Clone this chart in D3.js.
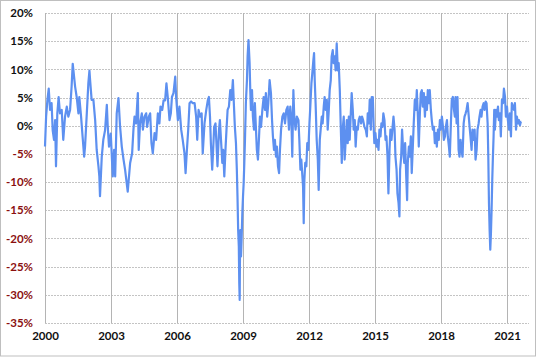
<!DOCTYPE html>
<html><head><meta charset="utf-8">
<script src="https://cdn.jsdelivr.net/npm/d3@7"></script>
<style>
html,body{margin:0;padding:0;background:#fff;}
svg{display:block;}
text{font-family:Lato,"Open Sans",sans-serif;font-weight:700;font-size:11.5px;}
</style></head>
<body><svg id="c" width="540" height="357"></svg>
<script>
const xTicks = [2000, 2003, 2006, 2009, 2012, 2015, 2018, 2021];
const yTicks = [20, 15, 10, 5, 0, -5, -10, -15, -20, -25, -30, -35];

const years = [
2000.00,2000.05,2000.11,2000.17,2000.23,2000.30,2000.35,2000.41,2000.46,2000.50,
2000.56,2000.62,2000.68,2000.76,2000.83,2000.91,2000.99,2001.06,2001.14,2001.21,
2001.26,2001.37,2001.44,2001.52,2001.56,2001.64,2001.71,2001.78,2001.82,2001.90,
2001.97,2002.02,2002.05,2002.12,2002.20,2002.28,2002.35,2002.43,2002.47,2002.50,
2002.58,2002.65,2002.73,2002.81,2002.85,2002.91,2002.99,2003.08,2003.14,2003.19,
2003.26,2003.34,2003.41,2003.49,2003.57,2003.64,2003.76,
2003.87,2003.96,2004.02,2004.07,2004.14,2004.22,2004.26,2004.32,2004.40,2004.45,
2004.52,2004.60,2004.64,2004.72,2004.78,2004.84,2004.90,2004.98,2005.05,2005.13,
2005.20,2005.25,2005.33,2005.39,2005.46,2005.52,2005.58,2005.66,2005.72,2005.77,
2005.84,2005.92,2005.96,2006.04,2006.11,2006.19,2006.26,2006.34,2006.39,2006.45,
2006.51,2006.57,2006.64,2006.72,2006.80,2006.87,2006.92,2006.98,2007.06,2007.12,
2007.17,2007.25,2007.33,2007.40,
2007.45,2007.50,2007.54,2007.60,2007.65,2007.69,2007.75,2007.80,2007.84,2007.91,
2007.95,2008.00,2008.06,2008.10,2008.15,2008.21,2008.25,2008.30,2008.36,2008.42,
2008.48,2008.54,2008.59,2008.63,2008.68,2008.72,2008.75,2008.78,2008.81,2008.83,
2008.85,2008.86,2008.88,2008.91,2008.94,2008.97,2009.00,2009.03,2009.06,2009.09,
2009.13,2009.18,2009.21,2009.25,2009.30,2009.33,2009.36,2009.41,2009.45,2009.50,
2009.54,2009.59,2009.63,2009.68,2009.73,2009.77,2009.82,2009.88,2009.94,2010.00,
2010.04,2010.10,2010.15,2010.21,2010.27,2010.32,2010.36,2010.41,2010.45,2010.50,
2010.54,2010.59,2010.64,2010.68,2010.73,2010.79,2010.85,2010.91,2010.97,2011.03,
2011.09,
2011.15,2011.20,2011.24,2011.29,2011.33,2011.39,2011.45,2011.52,2011.56,2011.61,
2011.65,2011.70,2011.73,2011.76,2011.79,2011.83,2011.88,2011.92,2011.97,2012.02,
2012.06,2012.11,2012.15,2012.20,2012.23,2012.26,2012.30,2012.35,2012.40,2012.44,
2012.49,2012.53,2012.58,2012.62,2012.67,2012.71,2012.76,2012.81,2012.85,2012.90,
2012.94,2012.99,2013.03,2013.08,2013.12,2013.17,2013.21,2013.26,2013.31,2013.35,
2013.40,2013.44,2013.49,2013.53,2013.58,2013.62,2013.67,2013.72,2013.76,2013.81,
2013.85,2013.90,2013.94,2013.99,2014.03,2014.08,2014.12,2014.17,2014.22,2014.26,
2014.31,2014.37,2014.41,2014.46,2014.52,2014.58,2014.63,2014.67,2014.72,2014.76,
2014.81,2014.85,
2014.90,2014.94,2014.97,2015.02,2015.07,2015.11,2015.16,2015.20,2015.25,2015.29,
2015.34,2015.38,2015.43,2015.48,2015.52,2015.57,2015.61,2015.66,2015.70,2015.75,
2015.79,2015.84,2015.89,2015.93,2015.98,2016.02,2016.07,2016.11,2016.14,2016.19,
2016.23,2016.28,2016.33,2016.37,2016.42,2016.46,2016.49,2016.54,2016.58,2016.63,
2016.67,2016.72,2016.76,2016.81,2016.86,2016.90,2016.95,2016.99,2017.04,2017.08,
2017.13,2017.17,2017.22,2017.27,2017.31,2017.36,2017.40,2017.45,2017.49,2017.54,
2017.58,2017.63,2017.68,2017.72,2017.77,2017.81,2017.86,2017.90,2017.95,2017.99,
2018.04,2018.09,2018.13,2018.18,2018.22,2018.27,2018.31,2018.36,2018.40,2018.45,
2018.49,2018.54,2018.59,
2018.63,2018.66,2018.71,2018.75,2018.80,2018.84,2018.89,2018.93,2018.98,2019.03,
2019.07,2019.12,2019.16,2019.21,2019.25,2019.30,2019.34,2019.39,2019.43,2019.48,
2019.53,2019.57,2019.62,2019.66,2019.71,2019.75,2019.80,2019.84,2019.89,2019.94,
2019.98,2020.03,2020.07,2020.12,2020.15,2020.18,2020.21,2020.24,2020.27,2020.30,
2020.33,2020.36,2020.39,2020.42,2020.45,2020.50,2020.54,2020.59,2020.63,2020.68,
2020.72,2020.77,2020.82,2020.86,2020.91,2020.95,2021.00,2021.04,2021.09,2021.13,
2021.18,2021.22,2021.27,2021.32,2021.36,2021.41,2021.45,2021.50,2021.54,2021.59,
2021.63,2021.65
];

const values = [
-3.7,1.6,4.6,6.6,2.8,4.0,-0.8,-2.5,1.0,-7.2,
2.2,5.1,2.2,2.8,-2.5,1.6,3.4,1.6,2.8,7.0,
11.0,6.9,5.1,2.2,5.1,1.6,-2.0,-5.5,-3.7,2.2,
7.5,9.8,8.1,4.6,4.6,1.0,-4.3,-7.2,-9.0,-12.5,
-5.5,-2.5,-0.8,3.7,0.0,-3.7,-1.4,-9.0,-4.3,-9.0,
2.2,4.9,0.0,-3.7,-6.0,-7.8,-11.7,
-6.6,-4.9,-0.7,1.6,0.4,5.8,-4.3,0.4,2.2,-0.7,
1.6,2.2,-0.2,1.6,2.2,-3.1,-4.9,-1.3,-2.5,2.2,
0.4,3.4,2.8,4.5,4.5,7.5,5.1,1.0,2.2,5.1,
5.8,8.7,5.1,1.0,3.4,-0.7,-2.5,-4.9,-8.4,-4.3,
-0.7,4.0,4.3,4.0,4.0,1.6,-2.5,2.8,1.6,2.2,
-4.9,0.4,2.8,4.5,
5.1,1.6,-3.1,-7.8,-3.7,-0.2,0.4,-3.7,-7.2,-0.7,
1.0,-2.5,-6.6,-4.3,-9.0,-3.7,-0.7,2.8,3.4,6.3,
4.6,8.1,3.4,-0.2,-3.1,-7.8,-12.6,-18.5,-21.4,-27.9,
-30.9,-24.4,-18.5,-23.2,-19.7,-15.5,-12.6,-10.2,-6.6,-2.5,
4.0,8.1,12.3,15.2,11.1,6.3,2.8,6.3,1.6,-0.7,
4.0,-0.7,-4.3,-6.0,-1.9,1.6,-0.2,2.8,5.1,2.8,
5.8,1.6,4.0,8.1,5.8,1.0,-1.9,-4.3,-2.5,-5.5,
-3.7,-7.2,-8.4,-4.3,-0.7,1.6,2.2,0.4,2.8,3.4,
-0.7,
3.4,1.0,-5.5,6.3,1.6,-0.7,1.6,1.0,-2.5,-7.8,
-6.0,-9.0,-10.8,-17.3,-9.6,-6.6,-7.2,-3.1,-4.3,0.4,
3.4,7.5,9.3,11.7,12.9,8.1,4.0,-2.5,-6.0,-11.4,
-2.5,-0.7,1.6,0.4,3.4,5.1,2.8,4.6,-0.7,2.8,
6.3,8.1,12.3,13.4,11.1,12.3,9.8,14.6,9.8,11.1,
6.3,0.4,-6.6,-0.7,1.6,-6.0,-2.5,1.0,-3.1,1.6,
-2.5,2.2,5.8,2.8,-0.7,1.0,-3.7,-0.2,-0.7,1.0,
1.6,0.4,1.6,1.0,-0.2,-0.7,-1.9,2.2,0.4,4.6,
-0.7,5.1,
5.1,-0.2,-3.1,-1.3,-3.7,-2.5,-4.3,-0.7,-1.9,0.4,
-0.2,2.2,1.0,-2.5,-1.9,-5.5,-12.0,-4.3,-0.7,-2.5,
-0.7,1.6,-0.7,-5.5,-7.8,-12.0,-13.7,-16.1,-7.8,-5.5,
-0.7,-4.3,-6.6,-3.1,-9.0,-13.2,-6.6,-3.7,-5.5,-1.9,
-8.4,-3.7,0.4,4.6,2.8,6.3,1.6,-3.7,2.2,5.8,
6.3,3.4,5.8,1.6,5.1,2.8,6.3,4.0,6.3,2.8,
1.0,-0.7,-0.2,-3.1,-1.3,-3.7,-0.7,-2.5,1.0,-0.7,
1.6,-0.2,-2.5,-1.9,-0.2,1.0,-1.9,-3.7,-5.5,0.4,
4.6,5.1,2.8,
1.6,5.1,0.4,5.1,-4.3,-5.5,-2.5,-4.3,-5.5,0.4,
1.6,2.2,2.8,4.0,2.2,-0.2,-1.9,-4.3,-0.7,-2.5,
-0.7,-6.0,-4.3,-0.7,0.4,1.6,2.8,1.6,3.4,4.0,
2.8,4.3,4.0,0.4,-5.5,-13.7,-18.5,-22.0,-19.1,-14.9,
-9.6,-5.5,-1.9,2.8,-0.7,2.8,1.6,3.4,1.0,2.2,
-1.9,4.6,4.0,6.6,5.1,1.6,3.4,1.0,-0.7,2.2,
-1.9,4.0,3.4,2.8,4.0,-0.7,1.6,0.4,1.0,0.1,
0.7,0.7
];

const svg = d3.select("#c");
const x = d3.scaleLinear().domain([2000, 2022]).range([45, 529]);
const y = d3.scaleLinear().domain([-35, 20]).range([323, 13]);

// outer border
svg.append("rect").attr("x", 0.5).attr("y", 0.5).attr("width", 535).attr("height", 355.5)
  .attr("fill", "#fff").attr("stroke", "#bfbfbf");

// horizontal gridlines
svg.append("g").selectAll("line").data(yTicks).join("line")
  .attr("x1", 45).attr("x2", 529)
  .attr("y1", d => Math.round(y(d)) + 0.5).attr("y2", d => Math.round(y(d)) + 0.5)
  .attr("stroke", "#c4c4c4").attr("stroke-width", 1)
  .attr("stroke-dasharray", "2,1");

// vertical gridlines
svg.append("g").selectAll("line").data(xTicks).join("line")
  .attr("x1", d => Math.round(x(d)) + 0.5).attr("x2", d => Math.round(x(d)) + 0.5)
  .attr("y1", y(20)).attr("y2", y(-35))
  .attr("stroke", "#b4b4b4").attr("stroke-width", 1);

// y axis labels
const yAxis = d3.axisLeft(y).tickValues(yTicks).tickSize(0).tickPadding(0)
  .tickFormat(d => d + "%");
const gy = svg.append("g").attr("transform", "translate(33,0)").call(yAxis);
gy.select(".domain").remove();
gy.selectAll("text").attr("fill", d => d < 0 ? "#8b1010" : "#111")
  .style("font-family", "Lato,'Open Sans',sans-serif").style("font-weight", "700").style("font-size", "11.5px");

// x axis labels
const xAxis = d3.axisBottom(x).tickValues(xTicks).tickSize(0).tickPadding(0)
  .tickFormat(d3.format("d"));
const gx = svg.append("g").attr("transform", "translate(0,332)").call(xAxis);
gx.select(".domain").remove();
gx.selectAll("text").attr("fill", "#111")
  .style("font-family", "Lato,'Open Sans',sans-serif").style("font-weight", "700").style("font-size", "11.5px");

// series
const pts = years.map((yr, i) => [yr, values[i]]);
const line = d3.line().x(d => x(d[0])).y(d => y(d[1]));
svg.append("path").datum(pts).attr("d", line)
  .attr("fill", "none").attr("stroke", "#5d90f0").attr("stroke-width", 2.2)
  .attr("stroke-linejoin", "round");
</script></body></html>
